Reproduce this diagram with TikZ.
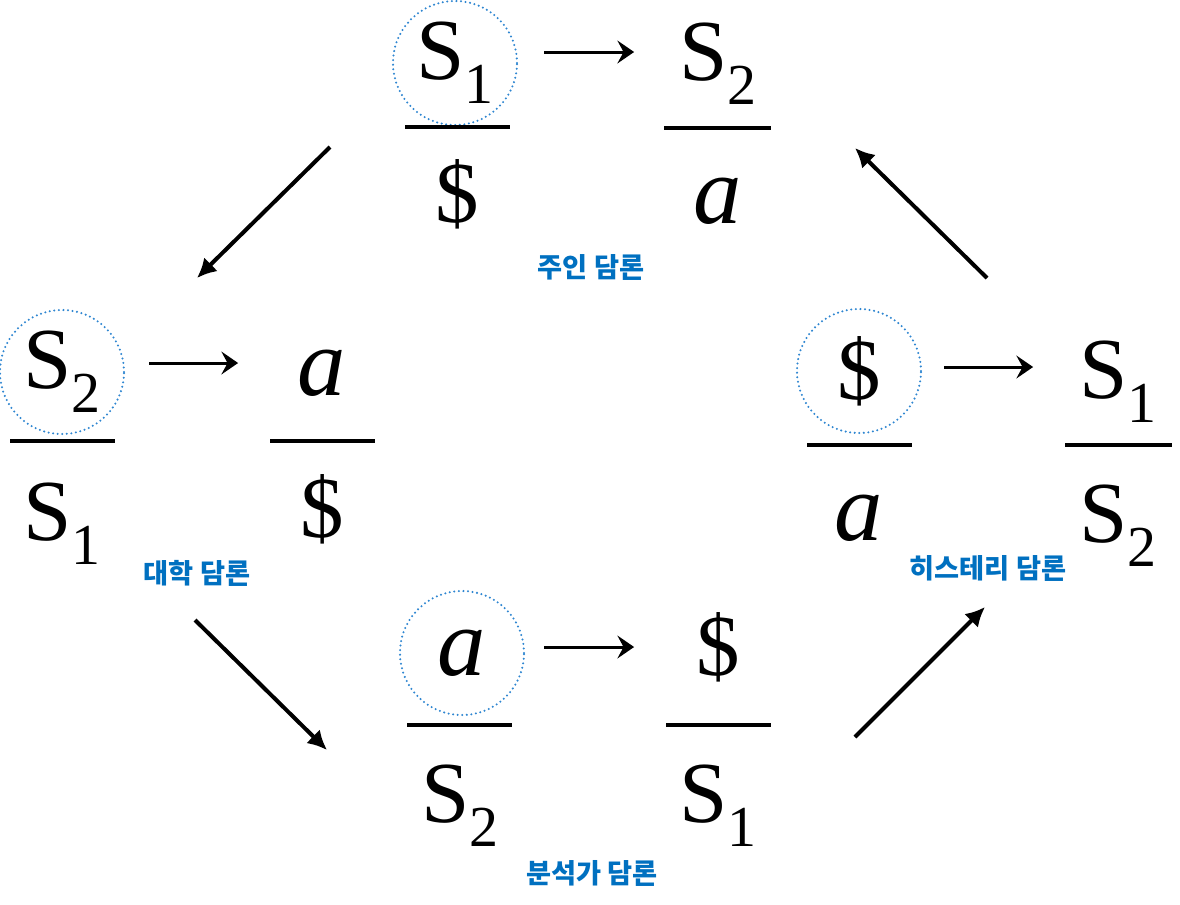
\documentclass[tikz,border=0pt]{standalone}
\usepackage{fontspec}
\setmainfont{Liberation Serif}
\newfontfamily\krfont{Noto Sans CJK KR}
\usetikzlibrary{arrows.meta}
\definecolor{ringBlue}{HTML}{2E86D1}
\definecolor{nameBlue}{HTML}{0070C0}
\newcommand\signi[1]{S\raisebox{-0.28em}{\fontsize{33}{35}\selectfont #1}}
\newcommand\objA{{\fontsize{55}{58}\selectfont\itshape a}}

\begin{document}
\begin{tikzpicture}[x=0.02cm, y=-0.02cm]
\tikzstyle{termtxt}=[inner sep=0pt, anchor=base, font=\fontsize{49.5}{55}\selectfont]
\tikzstyle{agentring}=[circle, draw=ringBlue, line width=1.3pt, line cap=round, dash pattern=on 0pt off 2.6pt, minimum size=2.48cm, inner sep=0pt, font=\fontsize{49.5}{55}\selectfont]
\tikzstyle{discname}=[text=nameBlue, font=\krfont\bfseries\fontsize{15.5}{17}\selectfont]
\tikzstyle{fracbar}=[line width=0.08cm]
\tikzstyle{toarrow}=[line width=1.7pt, -{Stealth[length=9.5pt, width=13pt, inset=3.5pt]}]
\tikzstyle{turn}=[line width=0.08cm, -{Latex[length=11pt, width=11pt]}]
\useasboundingbox (0,0) rectangle (1180,904);

% master
\node[agentring] (mAgent) at (455,63) {\signi1};
\node[termtxt] (mOther) at (718,80) {\signi2};
\node[termtxt] (mTruth) at (457,222) {\$};
\node[termtxt] (mProd) at (718,223) {\objA};
\node[discname] (mName) at (591,267) {주인 담론};
\draw[toarrow] ([xshift=0.52cm, yshift=0.22cm]mAgent.east) -- +(1.8cm,0);
\draw[fracbar] (405,127) -- (510,127);
\draw[fracbar] (664,128) -- (771,128);

% university
\node[agentring] (uAgent) at (62,372) {\signi2};
\node[termtxt] (uOther) at (322,395) {\objA};
\node[termtxt] (uTruth) at (62,540) {\signi1};
\node[termtxt] (uProd) at (322,537) {\$};
\node[discname] (uName) at (197,573) {대학 담론};
\draw[toarrow] ([xshift=0.48cm, yshift=0.18cm]uAgent.east) -- +(1.78cm,0);
\draw[fracbar] (10,441) -- (115,441);
\draw[fracbar] (270,441) -- (375,441);

% hysteric
\node[agentring] (hAgent) at (859,371) {\$};
\node[termtxt] (hOther) at (1118,398) {\signi1};
\node[termtxt] (hTruth) at (859,540) {\objA};
\node[termtxt] (hProd) at (1118,542) {\signi2};
\node[discname] (hName) at (988,568) {히스테리 담론};
\draw[toarrow] ([xshift=0.44cm, yshift=0.08cm]hAgent.east) -- +(1.78cm,0);
\draw[fracbar] (807,445) -- (912,445);
\draw[fracbar] (1065,445) -- (1172,445);

% analyst
\node[agentring] (aAgent) at (462,653) {\objA};
\node[termtxt] (aOther) at (718,675) {\$};
\node[termtxt] (aTruth) at (460,822) {\signi2};
\node[termtxt] (aProd) at (718,822) {\signi1};
\node[discname] (aName) at (592,873) {분석가 담론};
\draw[toarrow] ([xshift=0.38cm, yshift=0.12cm]aAgent.east) -- +(1.8cm,0);
\draw[fracbar] (407,725) -- (512,725);
\draw[fracbar] (666,725) -- (771,725);

% quarter turns
\coordinate (mOut) at (330,147);
\coordinate (uIn) at (197,278);
\coordinate (uOut) at (195,620);
\coordinate (aIn) at (327,750);
\coordinate (aOut) at (855,737);
\coordinate (hIn) at (985,607);
\coordinate (hOut) at (987,278);
\coordinate (mIn) at (855,148);
\draw[turn] (mOut) -- (uIn);
\draw[turn] (uOut) -- (aIn);
\draw[turn] (aOut) -- (hIn);
\draw[turn] (hOut) -- (mIn);
\end{tikzpicture}
\end{document}
